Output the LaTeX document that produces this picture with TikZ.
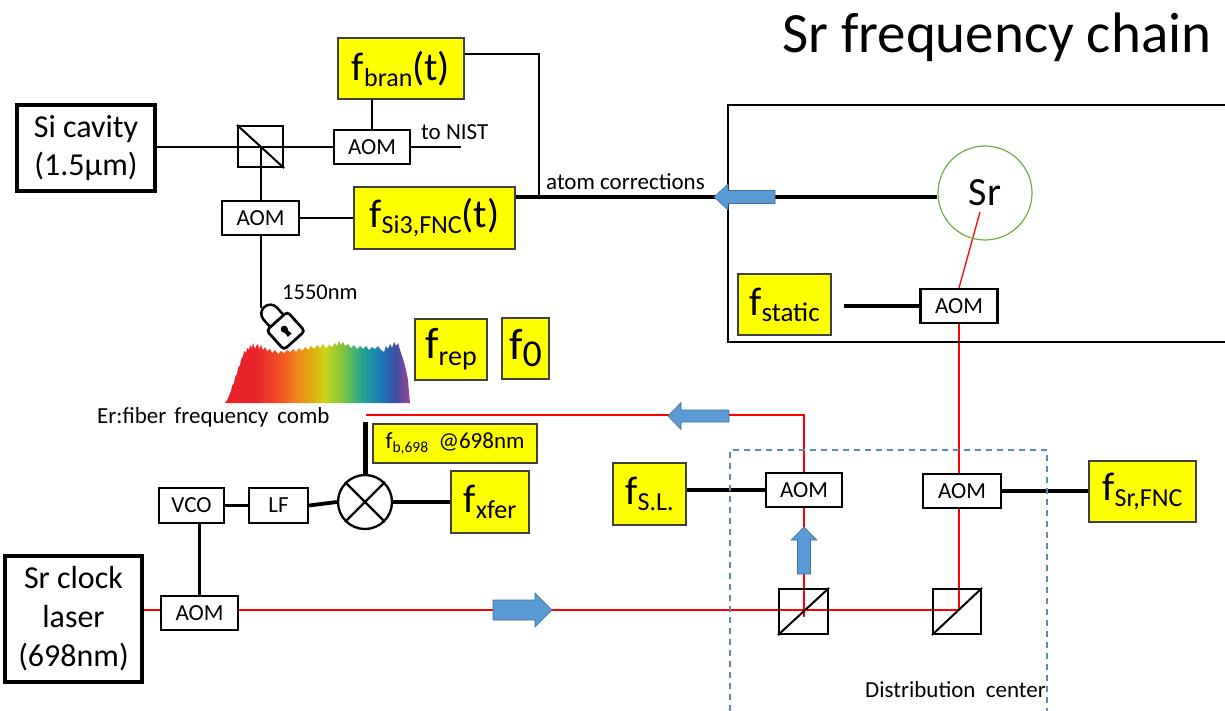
\documentclass[tikz,border=0pt]{standalone}
\usepackage{fontspec}
\setmainfont{Carlito}
\definecolor{fyellow}{HTML}{FFFF00}
\definecolor{arrblue}{HTML}{5B9BD5}
\definecolor{arredge}{HTML}{41719C}
\definecolor{dashblue}{HTML}{5A8AB5}
\definecolor{srgreen}{HTML}{70AD47}
\definecolor{laser}{HTML}{FF0000}
\definecolor{rbA}{HTML}{E8232A}
\definecolor{rbB}{HTML}{EE4A24}
\definecolor{rbC}{HTML}{F2811E}
\definecolor{rbD}{HTML}{E3A712}
\definecolor{rbE}{HTML}{CAD41B}
\definecolor{rbF}{HTML}{7CC242}
\definecolor{rbG}{HTML}{22A58F}
\definecolor{rbH}{HTML}{1C79BB}
\definecolor{rbI}{HTML}{3B4EA2}
\definecolor{rbJ}{HTML}{A0459B}
\pgfdeclarehorizontalshading{rainbow}{100bp}{color(0bp)=(rbA); color(25bp)=(rbA); color(33bp)=(rbA); color(39bp)=(rbB); color(44bp)=(rbC); color(48bp)=(rbD); color(52bp)=(rbE); color(57bp)=(rbF); color(62bp)=(rbG); color(67bp)=(rbH); color(71bp)=(rbI); color(75bp)=(rbJ); color(100bp)=(rbJ)}
\pgfdeclarelayer{back}
\pgfdeclarelayer{bg}
\pgfsetlayers{back,bg,main}
\newcommand{\fsz}[1]{\fontsize{#1}{#1}\selectfont}
\newcommand{\fsub}[4]{{\fsz{#1}f}\raisebox{-#3pt}{\fsz{#2}#4}}
\begin{document}
\begin{tikzpicture}[x=1pt,y=-1pt,
  aom/.style={draw, line width=2.3pt, fill=white, minimum width=76pt, minimum height=34pt, inner sep=0pt, font=\fsz{23}},
  fbox/.style={draw=black!75, line width=1.3pt, fill=fyellow, inner sep=0pt},
  bigbox/.style={draw, line width=3.8pt, fill=white, inner sep=0pt, align=center, font=\fontsize{32}{38}\selectfont},
  cube/.style={draw, line width=2.2pt, inner sep=0pt},
  wire/.style={line width=2pt},
  midwire/.style={line width=2.8pt},
  heavy/.style={line width=3.8pt},
  beam/.style={draw=laser, line width=2.4pt},
  thinbeam/.style={draw=laser, line width=1.3pt},
  barrow/.style={fill=arrblue, draw=arredge, line width=0.6pt},
  txt/.style={inner sep=0pt, anchor=base west, font=\fsz{23}}]
\useasboundingbox (0,0) rectangle (1225,711);
\begin{pgfonlayer}{back}
\fill[white] (0,0) rectangle (1225,711);
\end{pgfonlayer}

% title
\node[txt, font=\fsz{57}] (title) at (782,53) {Sr frequency chain};

% ---------- top left ----------
\node[bigbox, minimum width=138pt, minimum height=86pt] (sicav) at (86,148) {Si cavity\\(1.5μm)};
\node[cube, minimum width=45pt, minimum height=41pt] (bs1) at (260.5,146.5) {};
\node[aom] (aom1) at (372,147) {AOM};
\node[aom, minimum width=77pt] (aom2) at (260.5,218) {AOM};
\node[fbox, minimum width=126pt, minimum height=61pt] (fbran) at (401,68.5) {\fsub{40}{26}{6}{bran}\fsz{40}(t)};
\node[fbox, minimum width=161pt, minimum height=62pt] (fsi3) at (434.5,218) {\fsub{40}{26}{6}{Si3,FNC}\fsz{40}(t)};
\node[txt] (tonistlbl) at (421,140) {to NIST};
\coordinate (nist) at (461,147);
\coordinate (jn) at (539,197);
\coordinate (fb1) at ([yshift=14.5pt]fbran.east);
\coordinate (fs1) at ([yshift=21pt]fsi3.east);
\node[txt] (atomlbl) at (546,190) {atom corrections};
\coordinate (lockin) at (260.5,308);

\begin{pgfonlayer}{bg}
\draw[wire] (sicav.east |- aom1.west) -- (aom1.west);
\draw[wire] (bs1.center) -- (aom2.north);
\draw[wire] (aom2.south) -- (lockin);
\draw[wire] (fbran.south -| aom1.north) -- (aom1.north);
\draw[wire] (aom1.east) -- (nist);
\draw[midwire] (aom2.east) -- (fsi3.west);
\draw[midwire] (fb1) -- (fb1 -| jn) -- (jn);
\end{pgfonlayer}
\draw[line width=2pt] (bs1.north west) -- (bs1.south east);

% ---------- right box with Sr ----------
\draw[line width=2.5pt] (1226,105) -- (728,105) -- (728,342) -- (1226,342);
\node[circle, draw=srgreen, line width=1.2pt, minimum size=94pt, inner sep=0pt, font=\fsz{40}] (sr) at (985,193) {Sr};
\node[fbox, minimum width=93pt, minimum height=61pt] (fstatic) at (784.5,304.5) {\fsub{40}{27}{6}{static}};
\node[aom, minimum width=77pt] (aomS) at (959,306) {AOM};
\coordinate (fst) at ([xshift=12pt]fstatic.east);
\coordinate (srpt) at ([shift={(-5pt,-19pt)}]sr.center);
\begin{pgfonlayer}{bg}
\draw[heavy] (fs1) -- ([yshift=-4pt]sr.west);
\draw[heavy] (fst |- aomS.west) -- (aomS.west);
\draw[thinbeam] (srpt) -- (aomS.north);
\end{pgfonlayer}
% atom corrections arrow
\filldraw[barrow] (714,197) -- (728,184) -- (728,190.5) -- (775,190.5) -- (775,203.5) -- (728,203.5) -- (728,210) -- cycle;

% ---------- comb ----------
\node[txt, font=\fsz{22.5}] (nmlbl) at (282,299) {1550nm};
\shade[shading=rainbow] (225,403) -- (227,400) -- (229,396) -- (231,391) -- (232,386) -- (234,383) -- (235,377) -- (237,374) -- (238,368) -- (240,365) -- (241,360) -- (243,356) -- (244,351) -- (246,353) -- (247,348) -- (249,350) -- (250,345) -- (252,348) -- (253,343) -- (255,349) -- (256,346) -- (258,344) -- (259,349) -- (261,345) -- (263,350) -- (265,347) -- (267,351) -- (270,349) -- (272,353) -- (275,350) -- (278,354) -- (281,351) -- (284,353) -- (287,350) -- (290,352) -- (293,349) -- (296,352) -- (299,348) -- (302,351) -- (305,347) -- (308,350) -- (311,346) -- (314,349) -- (317,345) -- (320,348) -- (323,344) -- (326,348) -- (329,345) -- (332,347) -- (335,343) -- (337,346) -- (339,341) -- (341,345) -- (343,342) -- (345,346) -- (348,344) -- (351,348) -- (354,345) -- (357,349) -- (360,346) -- (363,349) -- (366,346) -- (369,350) -- (372,347) -- (375,349) -- (378,346) -- (381,350) -- (384,352) -- (386,346) -- (388,349) -- (390,344) -- (392,348) -- (394,342) -- (396,346) -- (398,343) -- (400,350) -- (402,356) -- (404,362) -- (406,370) -- (408,380) -- (409,392) -- (410,403) -- cycle;
% lock
\begin{scope}[shift={(285,330)}, rotate=42]
 \draw[line width=2.5pt] (-9,-12) -- (-9,-22) arc[start angle=180, end angle=360, radius=9] -- (9,-12);
 \draw[line width=2.7pt, fill=white, rounded corners=3.5pt] (-14,-12) rectangle (14,14);
 \fill (0,-1) circle[radius=3.6pt];
 \fill (-1.7,0) -- (1.7,0) -- (2.5,7) -- (-2.5,7) -- cycle;
\end{scope}
\node[fbox, minimum width=72pt, minimum height=61pt] (frep) at (451,349.5) {\fsub{44}{28}{7}{rep}};
\node[fbox, minimum width=47pt, minimum height=61pt] (f0) at (525.5,348.5) {{\fsz{44}f}\raisebox{-7pt}{\fsz{38}0}};
\node[txt] (comblbl) at (97,423) {Er:fiber\hspace{8pt}frequency\hspace{9pt}comb};

% ---------- bottom left ----------
\node[bigbox, minimum width=137pt, minimum height=126pt, font=\fontsize{32}{39}\selectfont] (srclock) at (73.5,619) {Sr clock\\laser\\(698nm)};
\node[aom, minimum width=77pt] (aom3) at (199.5,613) {AOM};
\node[aom, minimum width=65pt, minimum height=35pt] (vco) at (191.5,505.5) {VCO};
\node[aom, minimum width=59pt, minimum height=35pt] (lf) at (278.5,505.5) {LF};
\node[circle, draw, line width=2.3pt, fill=white, minimum size=54pt, inner sep=0pt] (mix) at (365,502) {};
\draw[line width=2.2pt] (mix.north west) -- (mix.south east) (mix.north east) -- (mix.south west);
\node[fbox, minimum width=164pt, minimum height=39pt] (fb698) at (455,443.5) {\fsub{23}{15.5}{4}{b,698}\fsz{23}\ \ @698nm};
\node[fbox, minimum width=78pt, minimum height=62pt] (fxfer) at (490,502) {\fsub{40}{26}{6}{xfer}};
\coordinate (mixtop) at (365,422);
\coordinate (rstart) at (366,415);
\coordinate (rA) at (804,610);
\coordinate (rB) at (959,610);

% ---------- distribution ----------
\node[fbox, minimum width=73pt, minimum height=62pt] (fsl) at (649.5,494) {\fsub{40}{26}{6}{S.L.}};
\node[aom] (aomSL) at (804,490) {AOM};
\node[cube, minimum width=49pt, minimum height=45pt] (bsA) at (803.5,611.5) {};
\node[cube, minimum width=48pt, minimum height=45pt] (bsB) at (957,611.5) {};
\draw[line width=2pt] (bsA.south west) -- (bsA.north east);
\draw[line width=2pt] (bsB.south west) -- (bsB.north east);
\node[aom, minimum width=78pt] (aomR) at (962,491) {AOM};
\node[fbox, minimum width=107pt, minimum height=61pt] (fsrfnc) at (1142.5,491.5) {\fsub{40}{26}{6}{Sr,FNC}};
\draw[dashblue, line width=1.6pt, dash pattern=on 6pt off 5pt] (730,711) -- (730,450) -- (1047,450) -- (1047,711);
\node[txt] (distlbl) at (865,697) {Distribution\ \ center};

\begin{pgfonlayer}{bg}
\draw[heavy] (vco.east) -- (lf.west);
\draw[heavy] (lf.east) -- (mix.west);
\draw[heavy] (mix.east) -- (fxfer.west |- mix.east);
\draw[line width=5pt] (mix.north) -- (mixtop);
\draw[heavy] (vco.south -| aom3.north) -- (aom3.north);
\draw[heavy] (fsl.east |- aomSL.west) -- (aomSL.west);
\draw[heavy] (aomR.east) -- (fsrfnc.west |- aomR.east);
\draw[beam] (srclock.east |- rA) -- (aom3.west |- rA);
\draw[beam] (aom3.east |- rA) -- (rB);
\draw[beam] (rstart) -- (rstart -| aomSL.north) -- (aomSL.north);
\draw[beam] (aomSL.south) -- ([yshift=-7pt]rA);
\draw[thinbeam] (rB) -- (aomS.south);
\end{pgfonlayer}

% blue arrows
\filldraw[barrow] (668,416) -- (681,402.5) -- (681,410) -- (729,410) -- (729,422) -- (681,422) -- (681,429.5) -- cycle;
\filldraw[barrow] (804,527) -- (817,540) -- (810.5,540) -- (810.5,574) -- (797.5,574) -- (797.5,540) -- (791,540) -- cycle;
\filldraw[barrow] (552,610) -- (535,593) -- (535,600) -- (493,600) -- (493,620) -- (535,620) -- (535,627) -- cycle;
\end{tikzpicture}
\end{document}
